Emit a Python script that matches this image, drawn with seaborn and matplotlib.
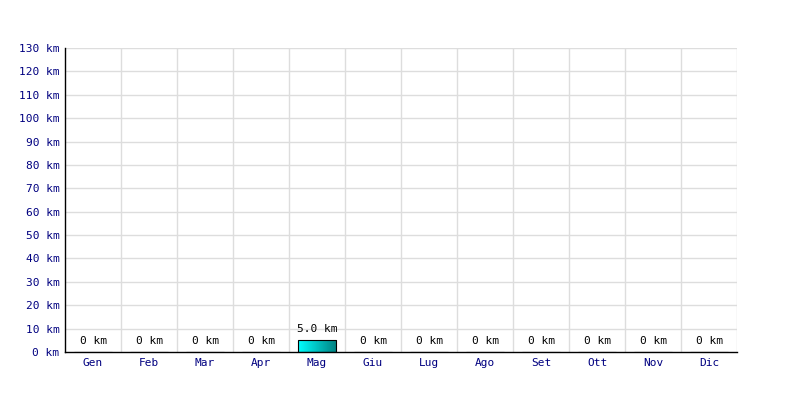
import numpy as np
import pandas as pd
import matplotlib
matplotlib.use("Agg")
import matplotlib.pyplot as plt
import seaborn as sns

# Monthly distances (km)
months = ["Gen", "Feb", "Mar", "Apr", "Mag", "Giu", "Lug", "Ago", "Set", "Ott", "Nov", "Dic"]
distances = [0, 0, 0, 0, 5.0, 0, 0, 0, 0, 0, 0, 0]
labels = ["0 km", "0 km", "0 km", "0 km", "5.0 km", "0 km", "0 km", "0 km", "0 km", "0 km", "0 km", "0 km"]
y_ticks = list(range(0, 131, 10))

df = pd.DataFrame({"month": months, "km": distances})

sns.set_style("white")
plt.rcParams['font.family'] = ['DejaVu Sans Mono', 'DejaVu Sans']

fig = plt.figure(figsize=(8, 4), dpi=100)
ax = fig.add_axes([65 / 800, 48 / 400, 672 / 800, 304 / 400])

sns.barplot(data=df, x="month", y="km", ax=ax, width=0.68,
            color="#00cccc", edgecolor="black", linewidth=0.8, zorder=3)

# horizontal cyan -> teal gradient inside each bar
grad = np.linspace(0, 1, 256).reshape(1, -1)
cmap = matplotlib.colors.LinearSegmentedColormap.from_list("cy", ["#00ffff", "#008080"])
for patch in ax.patches:
    h = patch.get_height()
    if h <= 0:
        continue
    x0 = patch.get_x()
    w = patch.get_width()
    patch.set_facecolor("none")
    im = ax.imshow(grad, extent=[x0, x0 + w, 0, h], aspect="auto", cmap=cmap,
                   zorder=2.5, origin="lower")
    im.set_clip_path(patch)

ax.set_xlim(-0.5, 11.5)
ax.set_ylim(0, 130)
ax.set_yticks(y_ticks)
ax.set_yticklabels([f"{v} km" for v in y_ticks])

# grid: horizontal at each tick, vertical at month boundaries
for v in y_ticks[1:]:
    ax.axhline(v, color="#dddddd", linewidth=1, zorder=0)
for i in range(1, 13):
    ax.axvline(i - 0.5, color="#dddddd", linewidth=1, zorder=0)

for i, (v, lab) in enumerate(zip(distances, labels)):
    ax.text(i, v + 2.5, lab, ha="center", va="bottom", fontsize=8, color="black")

for s in ["top", "right"]:
    ax.spines[s].set_visible(False)
ax.spines["left"].set_color("black")
ax.spines["bottom"].set_color("black")
ax.spines["left"].set_linewidth(1)
ax.spines["bottom"].set_linewidth(1)

ax.tick_params(axis="both", length=0, labelsize=8, colors="#000080", pad=4)
ax.set_xlabel("")
ax.set_ylabel("")

fig.savefig("out.png", dpi=100)
